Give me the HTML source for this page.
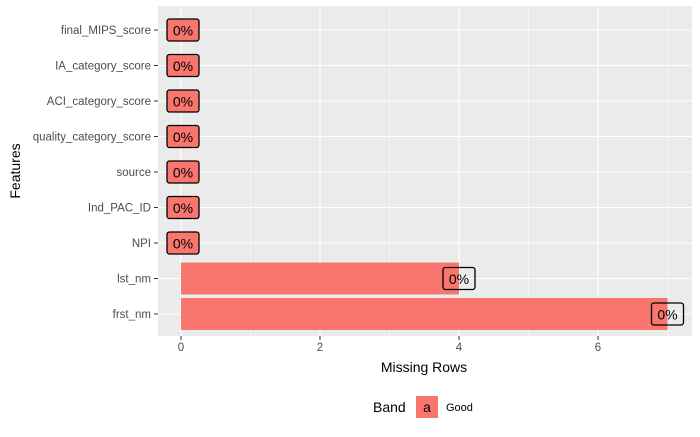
<!DOCTYPE html>
<html><head><meta charset="utf-8"><style>
body{margin:0;background:#fff;font-family:"Liberation Sans",Arial,sans-serif}
</style></head><body>
<svg width="700" height="432" xmlns="http://www.w3.org/2000/svg" font-family="Liberation Sans, Arial, sans-serif">
<rect width="700" height="432" fill="#fff"/>
<g id="panel"></g>
<text x="424" y="372" font-size="14" text-anchor="middle" fill="#000">Missing Rows</text>
<text transform="translate(20,171) rotate(-90)" font-size="14" text-anchor="middle" fill="#000">Features</text>
<g>
<text x="373" y="412" font-size="14" fill="#000">Band</text>
<rect x="416" y="396" width="22" height="22" fill="#F8766D"/>
<text x="427" y="412" font-size="14" text-anchor="middle" fill="#000">a</text>
<text x="446" y="411" font-size="11" fill="#000">Good</text>
</g>
</svg>
<script>
const categories=["final_MIPS_score","IA_category_score","ACI_category_score","quality_category_score","source","Ind_PAC_ID","NPI","lst_nm","frst_nm"];
const values=[0,0,0,0,0,0,0,4,7];
const labels=["0%","0%","0%","0%","0%","0%","0%","0%","0%"];
const xTicks=[0,2,4,6];
const NS="http://www.w3.org/2000/svg";
const L=158,R=692,T=6,B=336;
const x=v=>181+v*69.5;
const step=35.5;
const y=i=>B-22-(categories.length-1-i)*step;
const g=document.getElementById('panel');
function mk(t,a,p){const e=document.createElementNS(NS,t);for(const k in a)e.setAttribute(k,a[k]);(p||g).appendChild(e);return e;}
const bg=mk('rect',{x:L,y:T,width:R-L,height:B-T,fill:'#EBEBEB'});


for(let i=0;i<xTicks.length-1;i++){const m=(xTicks[i]+xTicks[i+1])/2;mk('line',{x1:x(m),x2:x(m),y1:T,y2:B,stroke:'#fff','stroke-width':0.5});}
mk('line',{x1:x(7),x2:x(7),y1:T,y2:B,stroke:'#fff','stroke-width':0.5});
xTicks.forEach(t=>{mk('line',{x1:x(t),x2:x(t),y1:T,y2:B,stroke:'#fff','stroke-width':1.1});
mk('line',{x1:x(t),x2:x(t),y1:B,y2:B+4,stroke:'#333'});
const tx=mk('text',{x:x(t),y:B+15,'font-size':11.5,'text-anchor':'middle',fill:'#4D4D4D'});tx.textContent=t;

});
categories.forEach((c,i)=>{mk('line',{x1:L,x2:R,y1:y(i),y2:y(i),stroke:'#fff','stroke-width':1.1});
mk('line',{x1:L-4,x2:L,y1:y(i),y2:y(i),stroke:'#333'});
const tx=mk('text',{x:L-7,y:y(i)+4,'font-size':11.5,'text-anchor':'end',fill:'#4D4D4D'});tx.textContent=c;

});
const bh=step*0.9;
categories.forEach((c,i)=>{const v=values[i];
if(v>0){const r=mk('rect',{x:x(0),y:y(i)-bh/2,width:x(v)-x(0),height:bh,fill:'#F8766D'});

}
const cx=v>0?x(v):x(0)+2;
const lb=mk('rect',{x:cx-16,y:y(i)-11,width:32,height:22,rx:2.5,fill:v>0?'none':'#F8766D',stroke:'#000','stroke-width':1.3});


const t=mk('text',{x:cx,y:y(i)+5.5,'font-size':14,'text-anchor':'middle',fill:'#000'});t.textContent=labels[i];

});
</script>
</body></html>
